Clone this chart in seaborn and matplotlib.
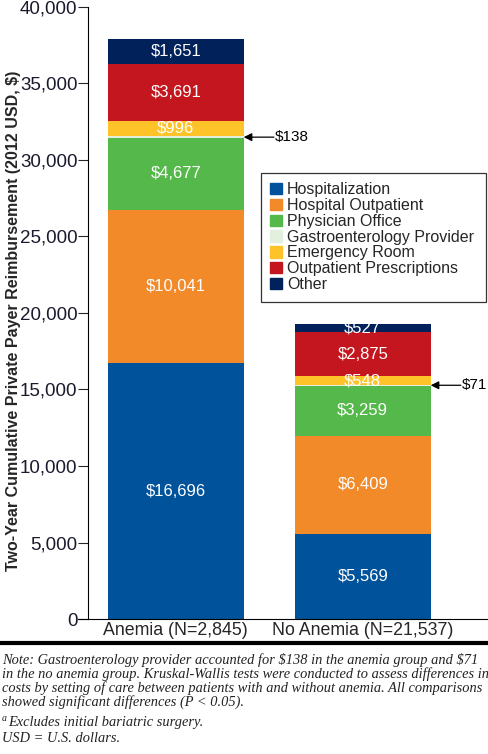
import matplotlib
matplotlib.use("Agg")
import matplotlib.pyplot as plt
import matplotlib.patches as mpatches
import numpy as np
import pandas as pd
import seaborn as sns

groups = ["Anemia (N=2,845)", "No Anemia (N=21,537)"]
categories = ["Hospitalization", "Hospital Outpatient", "Physician Office",
              "Gastroenterology Provider", "Emergency Room",
              "Outpatient Prescriptions", "Other"]
anemia = [16696, 10041, 4677, 138, 996, 3691, 1651]
no_anemia = [5569, 6409, 3259, 71, 548, 2875, 527]
colors = ["#00529b", "#f28a2a", "#55b84a", "#e3efdf", "#fdc328", "#c4161e", "#00215a"]

sns.set_theme(style="white")
plt.rcParams["font.family"] = ["Liberation Sans", "DejaVu Sans"]

vals = np.array([anemia, no_anemia])
cum = vals.cumsum(axis=1)

fig = plt.figure(figsize=(4.88, 7.54), dpi=100)
ax = fig.add_axes([0.180, 0.179, 0.82, 0.812])

# stacked bars: draw cumulative totals from the top down
for i in range(len(categories) - 1, -1, -1):
    df = pd.DataFrame({"group": groups, "value": cum[:, i]})
    sns.barplot(data=df, x="group", y="value", color=colors[i], width=0.727,
                saturation=1, ax=ax, linewidth=0)

# segment labels
for g in range(len(groups)):
    for i in range(len(categories)):
        if categories[i] == "Gastroenterology Provider":
            continue
        mid = cum[g, i] - vals[g, i] / 2
        ax.text(g, mid, f"${vals[g, i]:,}", color="white", ha="center",
                va="center", fontsize=12, parse_math=False)

# arrows for gastro provider
for g in range(len(groups)):
    gi = categories.index("Gastroenterology Provider")
    yv = cum[g, gi] - vals[g, gi] / 2
    ax.annotate("", xy=(g + 0.3635, yv), xytext=(g + 0.525, yv),
                arrowprops=dict(arrowstyle="-|>", color="black", lw=0.9,
                                mutation_scale=12, shrinkA=0, shrinkB=0))
    ax.text(g + 0.528, yv, f"${vals[g, gi]:,}", ha="left", va="center",
            fontsize=11, color="black", parse_math=False)

ax.set_ylim(0, 40000)
ax.set_xlim(-0.47, 1.67)
ax.set_yticks(range(0, 40001, 5000))
ax.set_yticklabels([f"{v:,}" for v in range(0, 40001, 5000)], fontsize=13.5,
                   color="#1a1a2e")
ax.tick_params(axis="y", direction="out", length=7, width=0.8, left=True, pad=0.5)
ax.tick_params(axis="x", length=0, labelsize=12.8, pad=2)
ax.set_xlabel("")
ax.set_ylabel("Two-Year Cumulative Private Payer Reimbursement (2012 USD, $)",
              fontsize=11.5, fontweight="bold")
ax.yaxis.set_label_coords(-0.168, 0.487)
for s in ["top", "right"]:
    ax.spines[s].set_visible(False)
ax.spines["left"].set_color("black")
ax.spines["bottom"].set_color("black")
ax.spines["left"].set_linewidth(0.8)
ax.spines["bottom"].set_linewidth(0.8)
ax.spines["bottom"].set_bounds(-0.52, 1.67)
ax.spines["bottom"].set_clip_on(False)

handles = [mpatches.Patch(color=c, label=l) for c, l in zip(colors, categories)]
leg = ax.legend(handles=handles, loc="upper left",
                bbox_to_anchor=(0.4325, 0.529, 0.5625, 0.2), mode="expand",
                fontsize=11.5, frameon=True, fancybox=False, edgecolor="black",
                handlelength=0.72, handleheight=0.72, handletextpad=0.3,
                labelspacing=0.05, borderpad=0.6, borderaxespad=0)
leg.get_frame().set_linewidth(0.9)

# footer
fig.add_artist(plt.Line2D([0, 1], [0.147, 0.147], color="black", lw=3,
                          transform=fig.transFigure))
note = ("Note: Gastroenterology provider accounted for $138 in the anemia group and $71\n"
        "in the no anemia group. Kruskal-Wallis tests were conducted to assess differences in\n"
        "costs by setting of care between patients with and without anemia. All comparisons\n"
        "showed significant differences (P < 0.05).")
ft = dict(ha="left", va="top", style="italic", family="Liberation Serif",
          color="#222222", parse_math=False)
fig.text(0.004, 0.1335, note, fontsize=10.4, linespacing=1.0, **ft)
fig.text(0.004, 0.0535, "a", fontsize=7, **ft)
fig.text(0.016, 0.0505, "Excludes initial bariatric surgery.", fontsize=10.4, **ft)
fig.text(0.004, 0.0295, "USD = U.S. dollars.", fontsize=10.4, **ft)

fig.savefig("out.png", dpi=100)
